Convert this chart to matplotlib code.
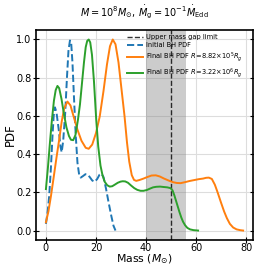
import matplotlib
matplotlib.use("Agg")
import matplotlib.pyplot as plt

# values
initial_mass = [0, 0.7, 1.3, 2.0, 2.6, 3.1, 3.6, 4.2, 5.1, 5.8, 6.3, 6.9, 7.7, 8.4,
                9.0, 9.6, 10.1, 10.6, 11.2, 11.9, 12.6, 13.3, 13.9, 14.8, 15.8,
                16.6, 17.5, 18.5, 19.5, 20.5, 21.4, 22.2, 23.0, 24.0, 25.0, 26.1,
                27.0, 27.8]
initial_pdf = [0.035, 0.10, 0.18, 0.33, 0.49, 0.60, 0.645, 0.62, 0.53, 0.44, 0.41,
               0.47, 0.615, 0.80, 0.94, 0.995, 0.98, 0.88, 0.70, 0.50, 0.355, 0.29,
               0.277, 0.285, 0.295, 0.294, 0.28, 0.262, 0.255, 0.27, 0.292, 0.298,
               0.28, 0.22, 0.15, 0.078, 0.025, 0.0]

final1_mass = [0, 1.0, 2.0, 3.0, 4.2, 5.3, 6.3, 7.3, 8.6, 9.8, 11.0, 12.6, 14.2,
               15.9, 17.1, 18.5, 20.0, 21.5, 23.0, 24.4, 25.6, 26.7, 27.8, 29.0,
               30.2, 31.4, 32.4, 33.3, 34.3, 35.2, 36.1, 37.5, 39.0, 40.5, 42.2,
               43.9, 45.5, 47.2, 49.0, 50.8, 52.3, 53.8, 55.5, 57.3, 59.2, 61.1,
               62.8, 64.0, 65.1, 66.3, 67.5, 68.6, 70.0, 71.2, 72.3, 73.5, 74.8,
               76.2, 77.6, 78.8]
final1_pdf = [0.043, 0.10, 0.18, 0.27, 0.38, 0.476, 0.57, 0.64, 0.675, 0.655, 0.60,
              0.528, 0.47, 0.433, 0.428, 0.45, 0.51, 0.597, 0.73, 0.87, 0.965, 1.0,
              0.975, 0.88, 0.74, 0.60, 0.46, 0.36, 0.29, 0.265, 0.26, 0.265, 0.272,
              0.28, 0.288, 0.289, 0.283, 0.272, 0.262, 0.253, 0.249, 0.248, 0.253,
              0.259, 0.264, 0.269, 0.272, 0.276, 0.277, 0.27, 0.24, 0.20, 0.145,
              0.10, 0.065, 0.035, 0.016, 0.006, 0.002, 0.0]

final2_mass = [0, 0.8, 1.6, 2.4, 3.2, 3.9, 4.6, 5.3, 6.2, 7.2, 8.2, 9.2, 10.0, 10.9,
               11.8, 12.8, 13.6, 14.4, 15.2, 15.9, 16.5, 17.1, 17.7, 18.4, 19.2,
               20.1, 20.9, 21.8, 22.6, 23.5, 24.5, 25.5, 26.5, 27.5, 28.7, 29.8,
               30.7, 31.7, 32.8, 34.0, 35.3, 36.5, 37.8, 39.0, 40.3, 41.5, 42.8,
               44.1, 45.6, 47.0, 48.5, 49.8, 50.6, 51.3, 52.0, 52.7, 53.4, 54.1,
               54.8, 55.6, 56.5, 57.6, 59.0, 60.8]
final2_pdf = [0.217, 0.33, 0.46, 0.58, 0.68, 0.735, 0.757, 0.745, 0.69, 0.61, 0.54,
              0.495, 0.475, 0.473, 0.50, 0.58, 0.66, 0.77, 0.88, 0.96, 0.993, 1.0,
              0.985, 0.92, 0.78, 0.58, 0.44, 0.34, 0.29, 0.255, 0.237, 0.230,
              0.232, 0.240, 0.25, 0.256, 0.258, 0.257, 0.25, 0.236, 0.222, 0.213,
              0.208, 0.208, 0.212, 0.219, 0.226, 0.229, 0.23, 0.228, 0.226, 0.222,
              0.21, 0.185, 0.155, 0.125, 0.095, 0.068, 0.046, 0.028, 0.014, 0.006,
              0.002, 0.0]

gap_lo, gap_hi = 40, 56
gap_limit = 50

fig = plt.figure(figsize=(2.54, 2.65), dpi=100)
ax = fig.add_axes([0.142, 0.094, 0.854, 0.793])

ax.axvspan(gap_lo, gap_hi, color="gray", alpha=0.4, lw=0)
ax.axvline(gap_limit, color="k", ls="--", lw=1.0, alpha=0.8,
           label="Upper mass gap limit")
ax.plot(initial_mass, initial_pdf, "--", color="#1f77b4", lw=1.4,
        label="Initial BH PDF")
ax.plot(final1_mass, final1_pdf, color="#ff7f0e", lw=1.4,
        label=r"Final BH PDF $R\!=\!8.82\!\times\!10^5R_g$")
ax.plot(final2_mass, final2_pdf, color="#2ca02c", lw=1.4,
        label=r"Final BH PDF $R\!=\!3.22\!\times\!10^6R_g$")

ax.grid(True, color="#dddddd", lw=0.8)
ax.set_axisbelow(True)
ax.set_xticks([0, 20, 40, 60, 80])
ax.set_yticks([0.0, 0.2, 0.4, 0.6, 0.8, 1.0])
ax.tick_params(direction="inout", length=4.5, right=True, labelsize=7, pad=1)
ax.tick_params(axis="x", pad=0)
for s in ax.spines.values():
    s.set_linewidth(1.2)

ax.set_xlabel(r"Mass ($M_{\odot}$)", fontsize=7.8)
ax.set_ylabel("PDF", fontsize=8.5)
ax.xaxis.set_label_coords(0.5, -0.058)
ax.yaxis.set_label_coords(-0.088, 0.5)
ax.set_title(r"$M = 10^8 M_{\odot}$, $\dot{M}_{\rm g} = 10^{-1}\dot{M}_{\rm Edd}$",
             fontsize=7, pad=10)
ax.legend(loc="upper left", bbox_to_anchor=(0.413, 0.985), fontsize=4.8,
          frameon=False, labelspacing=0.3, handlelength=2.4,
          handletextpad=0.45, borderaxespad=0, borderpad=0.2)

fig.savefig("out.png", dpi=100)
